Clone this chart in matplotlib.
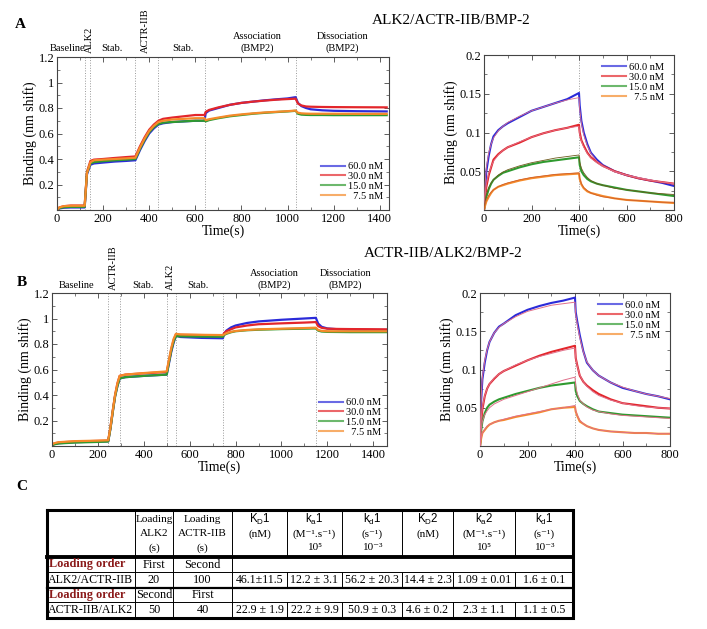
import matplotlib
matplotlib.use('Agg')
import matplotlib.pyplot as plt
import matplotlib.transforms as mtransforms
from matplotlib.ticker import AutoMinorLocator, FixedLocator, FormatStrFormatter, MultipleLocator

plt.rcParams['font.family'] = ['Liberation Serif', 'DejaVu Serif']
plt.rcParams['mathtext.fontset'] = 'custom'
plt.rcParams['mathtext.rm'] = 'Liberation Serif'
plt.rcParams['mathtext.it'] = 'Liberation Serif:italic'
plt.rcParams['mathtext.bf'] = 'Liberation Serif:bold'
plt.rcParams['mathtext.sf'] = 'Liberation Sans'

# ---------------- data ----------------
labels = ['60.0 nM', '30.0 nM', '15.0 nM', '  7.5 nM']
colors = ['#2b2bd9', '#e3262b', '#2f9a2f', '#f58a2a']

# Panel A (ALK2/ACTR-IIB/BMP-2) full sensorgram
tA = [0, 10, 30, 60, 120, 125, 130, 145, 160, 200, 250, 300, 340, 350, 360, 380, 400, 420, 440,
      460, 500, 550, 600, 640, 645, 660, 700, 750, 800, 850, 900, 950, 1000, 1035, 1045, 1060,
      1080, 1100, 1150, 1200, 1300, 1430]
A_60 = [0.0, 0.012, 0.018, 0.02, 0.02, 0.15, 0.28, 0.355, 0.365, 0.372, 0.38, 0.385, 0.39, 0.43,
        0.47, 0.54, 0.60, 0.64, 0.67, 0.68, 0.69, 0.695, 0.70, 0.70, 0.76, 0.78, 0.80, 0.825, 0.84,
        0.85, 0.86, 0.868, 0.875, 0.885, 0.84, 0.815, 0.80, 0.79, 0.782, 0.778, 0.775, 0.773]
A_30 = [0.0, 0.02, 0.03, 0.035, 0.035, 0.17, 0.30, 0.385, 0.395, 0.40, 0.408, 0.415, 0.42, 0.46,
        0.50, 0.57, 0.63, 0.67, 0.70, 0.715, 0.725, 0.735, 0.745, 0.745, 0.77, 0.785, 0.805, 0.825,
        0.84, 0.85, 0.858, 0.865, 0.87, 0.873, 0.835, 0.82, 0.812, 0.81, 0.808, 0.807, 0.806, 0.805]
A_15 = [0.0, 0.015, 0.022, 0.025, 0.025, 0.16, 0.29, 0.365, 0.375, 0.383, 0.39, 0.395, 0.40, 0.44,
        0.48, 0.55, 0.61, 0.65, 0.675, 0.685, 0.69, 0.695, 0.70, 0.70, 0.695, 0.705, 0.72, 0.735,
        0.745, 0.755, 0.762, 0.768, 0.773, 0.778, 0.755, 0.748, 0.746, 0.745, 0.745, 0.744, 0.744, 0.744]
A_7 = [0.0, 0.02, 0.03, 0.033, 0.033, 0.16, 0.29, 0.375, 0.39, 0.395, 0.40, 0.405, 0.41, 0.45,
       0.49, 0.56, 0.62, 0.66, 0.69, 0.70, 0.71, 0.715, 0.72, 0.72, 0.705, 0.712, 0.725, 0.74,
       0.75, 0.758, 0.765, 0.77, 0.775, 0.78, 0.763, 0.758, 0.756, 0.755, 0.755, 0.755, 0.754, 0.754]
phases_A = [120, 145, 340, 440, 640, 1035]

# Panel B (ACTR-IIB/ALK2/BMP-2) full sensorgram
tB = [0, 10, 30, 100, 200, 245, 255, 265, 275, 285, 295, 320, 400, 500, 510, 520, 530, 540, 560,
      650, 745, 750, 760, 780, 800, 850, 900, 1000, 1100, 1150, 1160, 1175, 1200, 1250, 1300, 1400, 1460]
B_60 = [0.005, 0.015, 0.022, 0.03, 0.035, 0.037, 0.14, 0.27, 0.39, 0.47, 0.53, 0.54, 0.55, 0.56,
        0.65, 0.74, 0.81, 0.865, 0.855, 0.848, 0.845, 0.88, 0.905, 0.93, 0.945, 0.965, 0.977, 0.99,
        1.0, 1.005, 0.96, 0.935, 0.922, 0.915, 0.912, 0.91, 0.91]
B_30 = [0.01, 0.02, 0.028, 0.035, 0.04, 0.042, 0.15, 0.28, 0.40, 0.49, 0.55, 0.56, 0.57, 0.58,
        0.67, 0.76, 0.83, 0.875, 0.872, 0.87, 0.868, 0.885, 0.90, 0.915, 0.93, 0.945, 0.955, 0.962,
        0.968, 0.972, 0.94, 0.927, 0.92, 0.918, 0.917, 0.916, 0.915]
B_15 = [0.005, 0.013, 0.02, 0.027, 0.032, 0.035, 0.14, 0.27, 0.39, 0.47, 0.53, 0.54, 0.55, 0.56,
        0.66, 0.75, 0.82, 0.862, 0.86, 0.858, 0.857, 0.87, 0.88, 0.892, 0.90, 0.908, 0.912, 0.917,
        0.92, 0.922, 0.905, 0.898, 0.895, 0.894, 0.893, 0.893, 0.893]
B_7 = [0.01, 0.022, 0.03, 0.038, 0.042, 0.045, 0.15, 0.28, 0.40, 0.49, 0.55, 0.56, 0.572, 0.585,
       0.68, 0.77, 0.84, 0.88, 0.875, 0.872, 0.87, 0.875, 0.885, 0.895, 0.902, 0.91, 0.915, 0.92,
       0.925, 0.928, 0.91, 0.903, 0.90, 0.90, 0.90, 0.90, 0.90]
phases_B = [245, 295, 500, 540, 745, 1150]

# Kinetic (association / dissociation) panels
tK = [0, 5, 10, 20, 30, 40, 60, 80, 100, 150, 200, 250, 300, 350, 400, 403, 410, 420, 435, 450,
      475, 500, 550, 600, 650, 700, 750, 800]
switch_K = 400

KA_60 = [0, 0.03, 0.05, 0.07, 0.085, 0.095, 0.103, 0.108, 0.112, 0.12, 0.128, 0.133, 0.138, 0.143,
         0.151, 0.135, 0.115, 0.1, 0.085, 0.074, 0.065, 0.058, 0.05, 0.045, 0.041, 0.038, 0.035, 0.031]
KA_30 = [0, 0.018, 0.03, 0.045, 0.055, 0.065, 0.072, 0.077, 0.081, 0.087, 0.094, 0.099, 0.103, 0.106,
         0.11, 0.1, 0.09, 0.083, 0.074, 0.068, 0.062, 0.057, 0.05, 0.045, 0.041, 0.038, 0.036, 0.034]
KA_15 = [0, 0.01, 0.017, 0.027, 0.034, 0.039, 0.044, 0.048, 0.05, 0.055, 0.059, 0.062, 0.064, 0.066,
         0.068, 0.058, 0.05, 0.045, 0.04, 0.037, 0.034, 0.032, 0.029, 0.026, 0.024, 0.022, 0.02, 0.018]
KA_7 = [0, 0.006, 0.011, 0.017, 0.022, 0.026, 0.03, 0.032, 0.034, 0.038, 0.041, 0.043, 0.045, 0.046,
        0.047, 0.04, 0.033, 0.028, 0.024, 0.022, 0.02, 0.018, 0.015, 0.013, 0.012, 0.011, 0.01, 0.009]
KA_fit60 = [0, 0.035, 0.055, 0.074, 0.085, 0.093, 0.102, 0.108, 0.113, 0.121, 0.128, 0.133, 0.138, 0.142,
            0.145, 0.13, 0.112, 0.097, 0.083, 0.073, 0.063, 0.057, 0.049, 0.045, 0.041, 0.038, 0.036, 0.034]
KA_fit30 = [0, 0.02, 0.033, 0.047, 0.056, 0.063, 0.071, 0.077, 0.081, 0.088, 0.094, 0.099, 0.103, 0.106,
            0.108, 0.098, 0.089, 0.081, 0.073, 0.067, 0.061, 0.056, 0.05, 0.045, 0.042, 0.039, 0.036, 0.034]
KA_fit15 = [0, 0.012, 0.02, 0.029, 0.035, 0.039, 0.045, 0.049, 0.052, 0.057, 0.061, 0.064, 0.067, 0.069,
            0.071, 0.062, 0.054, 0.048, 0.042, 0.038, 0.034, 0.032, 0.028, 0.026, 0.024, 0.022, 0.021, 0.02]
KA_fit7 = [0, 0.008, 0.013, 0.019, 0.023, 0.026, 0.03, 0.033, 0.035, 0.039, 0.042, 0.044, 0.046, 0.047,
           0.048, 0.041, 0.034, 0.029, 0.025, 0.022, 0.019, 0.017, 0.015, 0.013, 0.012, 0.011, 0.01, 0.01]

KB_60 = [0, 0.06, 0.087, 0.109, 0.125, 0.136, 0.148, 0.156, 0.16, 0.171, 0.178, 0.183, 0.187, 0.19,
         0.194, 0.175, 0.162, 0.145, 0.124, 0.109, 0.099, 0.092, 0.083, 0.076, 0.072, 0.068, 0.065, 0.061]
KB_30 = [0, 0.03, 0.048, 0.065, 0.075, 0.081, 0.088, 0.094, 0.098, 0.105, 0.112, 0.118, 0.123, 0.127,
         0.131, 0.115, 0.105, 0.092, 0.084, 0.079, 0.073, 0.068, 0.061, 0.056, 0.054, 0.052, 0.05, 0.049]
KB_15 = [0, 0.02, 0.032, 0.043, 0.05, 0.054, 0.058, 0.061, 0.063, 0.068, 0.072, 0.076, 0.079, 0.081,
         0.083, 0.072, 0.065, 0.059, 0.055, 0.052, 0.048, 0.045, 0.043, 0.041, 0.04, 0.039, 0.038, 0.037]
KB_7 = [0, 0.01, 0.017, 0.021, 0.025, 0.028, 0.031, 0.033, 0.034, 0.038, 0.041, 0.044, 0.048, 0.05,
        0.051, 0.045, 0.039, 0.032, 0.029, 0.026, 0.023, 0.021, 0.019, 0.018, 0.017, 0.017, 0.016, 0.016]
KB_fit60 = [0, 0.065, 0.09, 0.112, 0.126, 0.136, 0.148, 0.155, 0.16, 0.169, 0.176, 0.18, 0.184, 0.186,
            0.188, 0.172, 0.158, 0.142, 0.123, 0.11, 0.099, 0.092, 0.083, 0.077, 0.072, 0.068, 0.065, 0.062]
KB_fit30 = [0, 0.035, 0.05, 0.066, 0.075, 0.081, 0.089, 0.094, 0.098, 0.106, 0.112, 0.117, 0.121, 0.125,
            0.128, 0.115, 0.104, 0.093, 0.084, 0.078, 0.071, 0.066, 0.06, 0.056, 0.053, 0.051, 0.05, 0.049]
KB_fit15 = [0, 0.022, 0.032, 0.041, 0.046, 0.05, 0.055, 0.058, 0.061, 0.066, 0.071, 0.076, 0.081, 0.086,
            0.09, 0.078, 0.068, 0.06, 0.055, 0.051, 0.047, 0.045, 0.042, 0.04, 0.039, 0.038, 0.037, 0.036]
KB_fit7 = [0, 0.011, 0.017, 0.022, 0.026, 0.028, 0.031, 0.033, 0.035, 0.039, 0.042, 0.045, 0.048, 0.05,
           0.053, 0.046, 0.04, 0.034, 0.029, 0.026, 0.023, 0.021, 0.019, 0.018, 0.017, 0.017, 0.016, 0.016]

# Table C
tbl_headers = [
    ['Loading', 'ALK2', '(s)'],
    ['Loading', 'ACTR-IIB', '(s)'],
    [r'$\mathsf{K_D1}$', '(nM)', ''],
    [r'$\mathsf{k_a1}$', '(M\u207b\u00b9.s\u207b\u00b9)', '10\u2075'],
    [r'$\mathsf{k_d1}$', '(s\u207b\u00b9)', '10\u207b\u00b3'],
    [r'$\mathsf{K_D2}$', '(nM)', ''],
    [r'$\mathsf{k_a2}$', '(M\u207b\u00b9.s\u207b\u00b9)', '10\u2075'],
    [r'$\mathsf{k_d1}$', '(s\u207b\u00b9)', '10\u207b\u00b3'],
]
tbl_pairs = ['ALK2/ACTR-IIB', 'ACTR-IIB/ALK2']
tbl_order = [['First', 'Second'], ['Second', 'First']]
tbl_load_s = [['20', '100'], ['50', '40']]
tbl_values = [
    ['46.1\u00b111.5', '12.2 \u00b1 3.1', '56.2 \u00b1 20.3', '14.4 \u00b1 2.3', '1.09 \u00b1 0.01', '1.6 \u00b1 0.1'],
    ['22.9 \u00b1 1.9', '22.2 \u00b1 9.9', '50.9 \u00b1 0.3', '4.6 \u00b1 0.2', '2.3 \u00b1 1.1', '1.1 \u00b1 0.5'],
]

# ---------------- layout ----------------
W, H = 707, 629
fig = plt.figure(figsize=(W / 100, H / 100), dpi=100)


def rect(x0, y0, x1, y1):
    return [x0 / W, 1 - y1 / H, (x1 - x0) / W, (y1 - y0) / H]


def fx(px):
    return px / W


def fy(py):
    return 1 - py / H


SPINE = '#444444'


def style(ax, xmax, xmaj, ymax, ymaj, yminor):
    ax.set_xlim(0, xmax)
    ax.set_ylim(0, ymax)
    ax.xaxis.set_major_locator(MultipleLocator(xmaj))
    ax.xaxis.set_minor_locator(AutoMinorLocator(2))
    ax.yaxis.set_major_locator(FixedLocator(ymaj))
    ax.yaxis.set_minor_locator(MultipleLocator(yminor))
    ax.yaxis.set_major_formatter(FormatStrFormatter('%g'))
    ax.tick_params(which='both', direction='in', top=True, right=True, color=SPINE,
                   labelsize=9, pad=2)
    ax.tick_params(which='major', length=3.5, width=0.6)
    ax.tick_params(which='minor', length=2, width=0.5)
    for s in ax.spines.values():
        s.set_color(SPINE)
        s.set_linewidth(0.8)
    ax.set_xlabel('Time(s)', fontsize=10, labelpad=0)
    ax.set_ylabel('Binding (nm shift)', fontsize=10, labelpad=1)


def legend(ax, anchor, loc):
    leg = ax.legend(loc=loc, bbox_to_anchor=anchor, frameon=False, fontsize=7.5,
                    handlelength=2.3, handletextpad=0.3, labelspacing=0.05, borderpad=0.1)
    for h in leg.get_lines():
        h.set_linewidth(1.5)
        h.set_alpha(0.7)


# ---- Panel A left
axA = fig.add_axes(rect(57, 57, 389, 210))
for p in phases_A:
    axA.axvline(p, color='#9a9a9a', lw=0.7, ls=':', zorder=1)
for y, c, lab in zip([A_60, A_30, A_15, A_7], colors, labels):
    axA.plot(tA, y, color=c, lw=1.6, label=lab, zorder=2)
style(axA, 1440, 200, 1.2, [0.2, 0.4, 0.6, 0.8, 1.0, 1.2], 0.1)
legend(axA, (1.0, 0.02), 'lower right')

# ---- Panel A right
axAr = fig.add_axes(rect(484, 55, 674, 210))
axAr.axvline(switch_K, color='#9a9a9a', lw=0.7, ls=':', zorder=1)
for y, c, lab in zip([KA_60, KA_30, KA_15, KA_7], colors, labels):
    axAr.plot(tK, y, color=c, lw=1.5, label=lab, zorder=2)
for y, fc in zip([KA_fit60, KA_fit30, KA_fit15, KA_fit7], ['#e0708a', '#e0708a', '#6e5a1e', '#d0602a']):
    axAr.plot(tK, y, color=fc, lw=0.6, zorder=3)
style(axAr, 800, 200, 0.2, [0.05, 0.1, 0.15, 0.2], 0.025)
legend(axAr, (0.98, 0.99), 'upper right')

# ---- Panel B left
axB = fig.add_axes(rect(52, 293, 387, 446))
for p in phases_B:
    axB.axvline(p, color='#9a9a9a', lw=0.7, ls=':', zorder=1)
for y, c, lab in zip([B_60, B_30, B_15, B_7], colors, labels):
    axB.plot(tB, y, color=c, lw=1.6, label=lab, zorder=2)
style(axB, 1460, 200, 1.2, [0.2, 0.4, 0.6, 0.8, 1.0, 1.2], 0.1)
legend(axB, (1.0, 0.02), 'lower right')

# ---- Panel B right
axBr = fig.add_axes(rect(480, 293, 670, 446))
axBr.axvline(switch_K, color='#9a9a9a', lw=0.7, ls=':', zorder=1)
for y, c, lab in zip([KB_60, KB_30, KB_15, KB_7], colors, labels):
    axBr.plot(tK, y, color=c, lw=1.5, label=lab, zorder=2)
for y in [KB_fit60, KB_fit30, KB_fit15, KB_fit7]:
    axBr.plot(tK, y, color='#e0708a', lw=0.7, zorder=3)
style(axBr, 800, 200, 0.2, [0.05, 0.1, 0.15, 0.2], 0.025)
legend(axBr, (0.98, 0.99), 'upper right')


# ---- phase labels
def phase_labels(ax, items, top_px):
    tr = mtransforms.blended_transform_factory(ax.transData, fig.transFigure)
    for x, txt, rot in items:
        ax.text(x, fy(top_px), txt, transform=tr, ha='center', va='bottom', rotation=rot,
                fontsize=7.5, linespacing=1.3, clip_on=False)


phase_labels(axA, [(45, 'Baseline', 0), (140, 'ALK2', 90), (238, 'Stab.', 0), (385, 'ACTR-IIB', 90),
                   (545, 'Stab.', 0), (869, 'Association\n(BMP2)', 0),
                   (1237, 'Dissociation\n(BMP2)', 0)], 53)
phase_labels(axB, [(109, 'Baseline', 0), (268, 'ACTR-IIB', 90), (398, 'Stab.', 0), (518, 'ALK2', 90),
                   (635, 'Stab.', 0), (967, 'Association\n(BMP2)', 0),
                   (1278, 'Dissociation\n(BMP2)', 0)], 290)

# ---- titles and panel letters
fig.text(fx(451), fy(21), 'ALK2/ACTR-IIB/BMP-2', ha='center', va='center', fontsize=11)
fig.text(fx(443), fy(253), 'ACTR-IIB/ALK2/BMP-2', ha='center', va='center', fontsize=11)
fig.text(fx(20), fy(25), 'A', ha='center', va='center', fontsize=11, fontweight='bold')
fig.text(fx(22), fy(282), 'B', ha='center', va='center', fontsize=11, fontweight='bold')
fig.text(fx(22), fy(487), 'C', ha='center', va='center', fontsize=11, fontweight='bold')

# ---- table C
tab = fig.add_axes([0, 0, 1, 1])
tab.set_xlim(0, W)
tab.set_ylim(H, 0)
tab.axis('off')
cols = [47, 135, 173, 232, 287, 342, 402, 453, 515, 573]
rows = [510, 557, 572, 588, 602, 618]
thin = 0.7
tab.plot([cols[0], cols[-1]], [rows[2], rows[2]], color='k', lw=thin)
tab.plot([cols[0], cols[-1]], [rows[4], rows[4]], color='k', lw=thin)
tab.plot([cols[0], cols[-1]], [rows[3], rows[3]], color='k', lw=1.6)
tab.plot([cols[0], cols[-1]], [rows[1], rows[1]], color='k', lw=2.8)
for i, c in enumerate(cols[1:-1], start=1):
    if i <= 3:
        tab.plot([c, c], [rows[0], rows[-1]], color='k', lw=thin)
    else:
        tab.plot([c, c], [rows[0], rows[1]], color='k', lw=thin)
        tab.plot([c, c], [rows[2], rows[3]], color='k', lw=thin)
        tab.plot([c, c], [rows[4], rows[5]], color='k', lw=thin)
tab.plot([cols[0], cols[-1], cols[-1], cols[0], cols[0]],
         [rows[0], rows[0], rows[-1], rows[-1], rows[0]], color='k', lw=2.2, solid_joinstyle='miter')

centers = [(cols[i] + cols[i + 1]) / 2 for i in range(len(cols) - 1)]
hdr_y = [519, 534, 548]
for j, lines in enumerate(tbl_headers):
    cx = centers[j + 1]
    for k, s in enumerate(lines):
        if not s:
            continue
        if s.startswith(r'$\mathsf'):
            tab.text(cx, hdr_y[k], s, ha='center', va='center', fontsize=8.3)
        else:
            tab.text(cx, hdr_y[k], s, ha='center', va='center', fontsize=8.1)

dark_red = '#8b1a1a'
for r in range(2):
    y_order = (rows[1 + 2 * r] + rows[2 + 2 * r]) / 2
    y_val = (rows[2 + 2 * r] + rows[3 + 2 * r]) / 2
    tab.text(cols[0] + 2, y_order, 'Loading order', ha='left', va='center', fontsize=8.8,
             fontweight='bold', color=dark_red)
    for j in range(2):
        tab.text(centers[1 + j], y_order, tbl_order[r][j], ha='center', va='center', fontsize=8.8)
        tab.text(centers[1 + j], y_val, tbl_load_s[r][j], ha='center', va='center', fontsize=8.8)
    tab.text(cols[0] + 1, y_val, tbl_pairs[r], ha='left', va='center', fontsize=8.6)
    for j, v in enumerate(tbl_values[r]):
        tab.text(centers[3 + j], y_val, v, ha='center', va='center', fontsize=8.6)

fig.savefig('out.png', dpi=100)
